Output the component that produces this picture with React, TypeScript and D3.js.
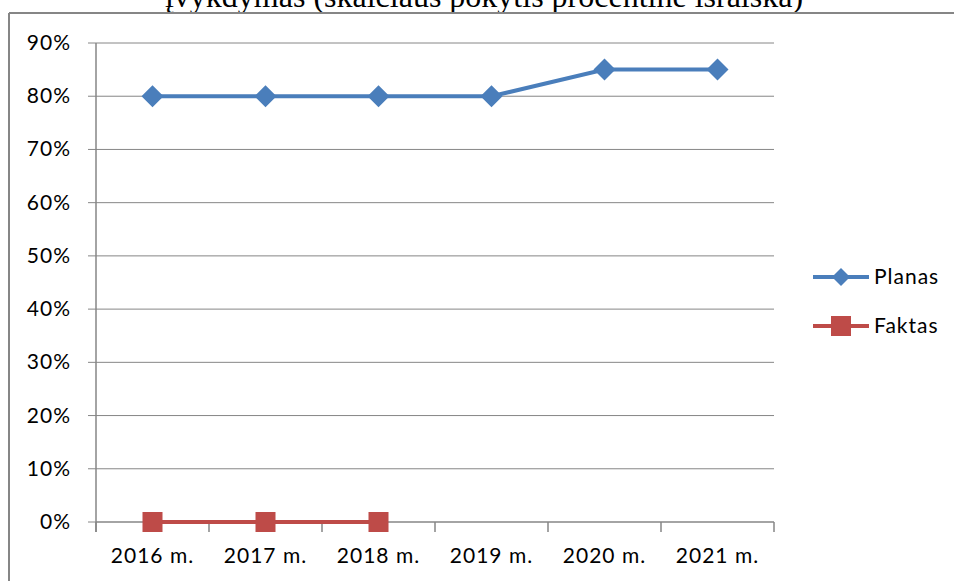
import React from "react";
import * as d3 from "d3";

const categories = ["2016 m.", "2017 m.", "2018 m.", "2019 m.", "2020 m.", "2021 m."];
const planas = [0.8, 0.8, 0.8, 0.8, 0.85, 0.85];
const faktas = [0, 0, 0];
const yTicks = [0, 0.1, 0.2, 0.3, 0.4, 0.5, 0.6, 0.7, 0.8, 0.9];
const title = "įvykdymas (skaičiaus pokytis procentine išraiška)";
const seriesNames = ["Planas", "Faktas"];

const W = 954, H = 581;
const left = 96, right = 774, top = 43, bottom = 522;
const BLUE = "#4A7EBB", RED = "#BE4B48", GRID = "#868686";
const FONT = "Lato, 'Open Sans', sans-serif";
const WEIGHT = 400;

export default function App() {
  const x = d3.scaleBand<string>().domain(categories).range([left, right]);
  const y = d3.scaleLinear().domain([0, 0.9]).range([bottom, top]);
  const cx = (i: number) => (x(categories[i]) as number) + x.bandwidth() / 2;
  const line = d3.line<number>().x((_, i) => cx(i)).y((v) => y(v));
  const fmt = d3.format(".0%");
  const diamond = (px: number, py: number, r = 11) =>
    `M${px},${py - r}L${px + r},${py}L${px},${py + r}L${px - r},${py}Z`;
  const bounds = [...categories.map((c) => x(c) as number), right];

  return (
    <svg width={W} height={H} style={{ position: "absolute", left: 0, top: 0, background: "#fff" }}>
      <rect x={0} y={0} width={W} height={H} fill="#fff" />
      <text x={484} y={7} textAnchor="middle" fontFamily="'Liberation Serif', 'Times New Roman', serif" fontSize={32} fill="#000">
        {title}
      </text>
      <line x1={9} y1={13} x2={W} y2={13} stroke={GRID} strokeWidth={2} />
      <line x1={9} y1={13} x2={9} y2={H} stroke={GRID} strokeWidth={2} />
      {yTicks.map((t) => (
        <g key={t}>
          {t > 0 && <line x1={left} x2={right} y1={y(t)} y2={y(t)} stroke={GRID} strokeWidth={1} />}
          <line x1={left - 8} x2={left} y1={y(t)} y2={y(t)} stroke={GRID} strokeWidth={1} />
          <text x={71} y={y(t) + 7} textAnchor="end" fontFamily={FONT} fontWeight={WEIGHT} fontSize={21} letterSpacing={1} fill="#000">
            {fmt(t)}
          </text>
        </g>
      ))}
      <line x1={left} x2={left} y1={top} y2={bottom + 10} stroke={GRID} strokeWidth={1.5} />
      <line x1={left} x2={right} y1={bottom} y2={bottom} stroke={GRID} strokeWidth={1.5} />
      {bounds.map((b, i) => (
        <line key={i} x1={b} x2={b} y1={bottom} y2={bottom + 10} stroke={GRID} strokeWidth={1.5} />
      ))}
      {categories.map((c, i) => (
        <text key={c} x={cx(i)} y={563} textAnchor="middle" fontFamily={FONT} fontWeight={WEIGHT} fontSize={21} letterSpacing={1} fill="#000">
          {c}
        </text>
      ))}
      <path d={line(planas) as string} fill="none" stroke={BLUE} strokeWidth={4} />
      {planas.map((v, i) => (
        <path key={i} d={diamond(cx(i), y(v))} fill={BLUE} />
      ))}
      <path d={line(faktas) as string} fill="none" stroke={RED} strokeWidth={4} />
      {faktas.map((v, i) => (
        <rect key={i} x={cx(i) - 10} y={y(v) - 10} width={20} height={20} fill={RED} />
      ))}
      {/* legend */}
      <line x1={813} x2={869} y1={277} y2={277} stroke={BLUE} strokeWidth={4} />
      <path d={diamond(841, 277, 9)} fill={BLUE} />
      <text x={874} y={284} fontFamily={FONT} fontWeight={WEIGHT} fontSize={21} letterSpacing={1} fill="#000">{seriesNames[0]}</text>
      <line x1={813} x2={869} y1={326} y2={326} stroke={RED} strokeWidth={4} />
      <rect x={831} y={316} width={20} height={20} fill={RED} />
      <text x={874} y={333} fontFamily={FONT} fontWeight={WEIGHT} fontSize={21} letterSpacing={1} fill="#000">{seriesNames[1]}</text>
    </svg>
  );
}
